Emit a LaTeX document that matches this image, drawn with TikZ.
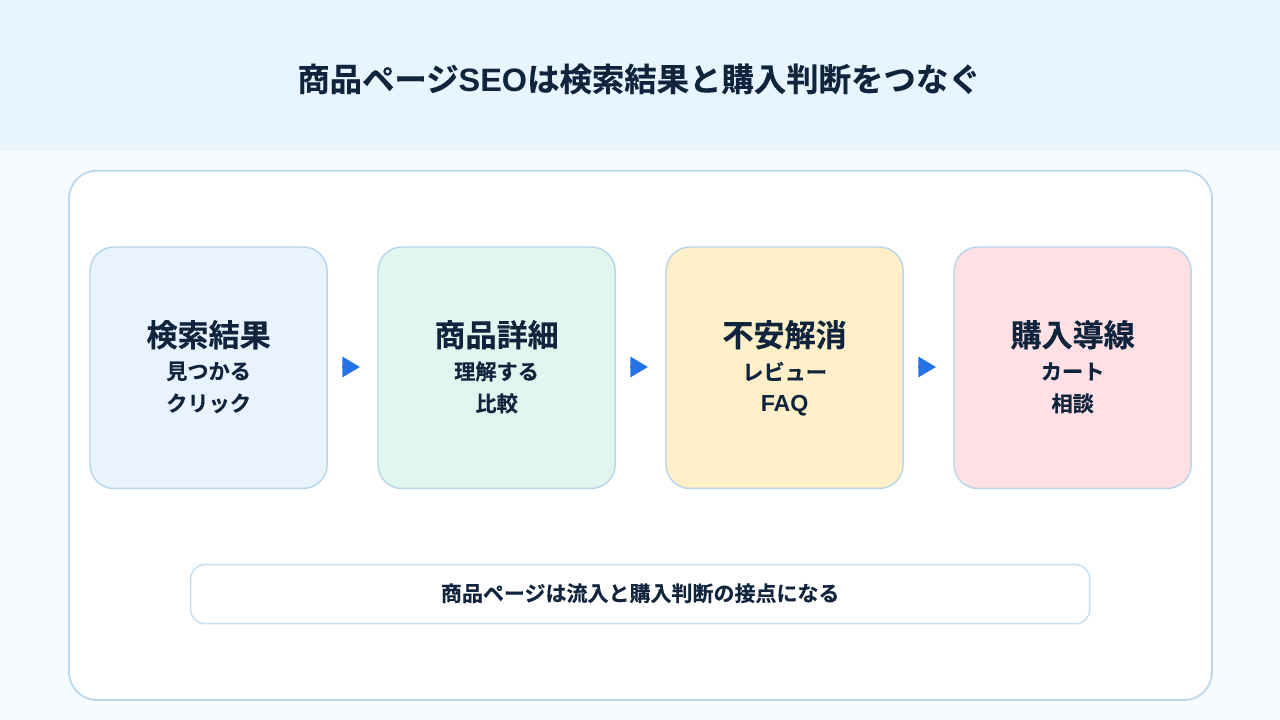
\documentclass[tikz,border=0pt]{standalone}
\usepackage{fontspec}
\setmainfont{Noto Sans CJK JP}[BoldFont={Noto Sans CJK JP Bold},BoldFeatures={FakeBold=0.25}]
\newfontfamily\latinbold{Liberation Sans Bold}
\usetikzlibrary{arrows.meta}
\definecolor{headbg}{HTML}{E8F5FF}
\definecolor{pagebg}{HTML}{F5FBFF}
\definecolor{edge}{HTML}{B8D7EC}
\definecolor{softedge}{HTML}{C6DEF1}
\definecolor{ink}{HTML}{10243E}
\definecolor{arrowblue}{HTML}{2573E6}
\definecolor{fa}{HTML}{E8F3FE}
\definecolor{fb}{HTML}{E0F7EF}
\definecolor{fc}{HTML}{FFF0C9}
\definecolor{fd}{HTML}{FFE0E4}
\tikzset{
  x=0.75pt,y=-0.75pt,
  stage/.style={draw=edge,line width=1.1pt,rounded corners=18pt,minimum width=177.9pt,minimum height=181.1pt,inner sep=0pt,outer sep=0pt,anchor=north west},
  headtext/.style={font=\fontsize{23.3pt}{26pt}\selectfont\bfseries,text=ink,anchor=center,inner sep=0pt},
  subtext/.style={font=\fontsize{15.9pt}{18pt}\selectfont\bfseries,text=ink,anchor=center,inner sep=0pt},
  flow/.style={-{Triangle[length=13.2pt,width=15pt]},draw=arrowblue,fill=arrowblue,line width=2.2pt}
}
\begin{document}
\begin{tikzpicture}
\useasboundingbox (0,0) rectangle (1280,720);
\fill[pagebg] (0,0) rectangle (1280,720);
\fill[headbg] (0,0) rectangle (1280,151);
\node[font=\fontsize{24.3pt}{28pt}\selectfont\bfseries,text=ink,inner sep=0pt] (title) at (639,79) {商品ページ{\latinbold SEO}は検索結果と購入判断をつなぐ};
\node[draw=edge,fill=white,line width=1.3pt,rounded corners=21pt,minimum width=857.25pt,minimum height=397pt,inner sep=0pt,outer sep=0pt,anchor=north west] (panel) at (69,170.7) {};
\node[stage,fill=fa] (a) at (90,247) {};
\node[stage,fill=fb] (b) at (378,247) {};
\node[stage,fill=fc] (c) at (666,247) {};
\node[stage,fill=fd] (d) at (954,247) {};
\foreach \n/\h/\s/\t/\d in {a/検索結果/見つかる/クリック/0,b/商品詳細/理解する/比較/0,c/不安解消/レビュー/{\vphantom{ク}\latinbold\fontsize{17.4pt}{18pt}\selectfont FAQ}/1.2,d/購入導線/カート/相談/0}{
  \node[headtext] (\n h) at ([yshift=24.75pt]\n.center) {\h};
  \node[subtext] (\n s) at ([yshift=-2.75pt]\n.center) {\s};
  \node[subtext] (\n t) at ([yshift=-26.75pt-\d pt]\n.center) {\t};
}
\coordinate (a1) at (342,367); \coordinate (a2) at (360,367);
\coordinate (b1) at (630,367); \coordinate (b2) at (648,367);
\coordinate (c1) at (918,367); \coordinate (c2) at (936,367);
\draw[flow] (a1) -- (a2);
\draw[flow] (b1) -- (b2);
\draw[flow] (c1) -- (c2);
\node[draw=softedge,fill=white,line width=1.1pt,rounded corners=10.5pt,minimum width=674.25pt,minimum height=44.25pt,inner sep=0pt,outer sep=0pt,anchor=north west] (note) at (190.7,564.7) {};
\node[font=\fontsize{15.75pt}{20pt}\selectfont\bfseries,text=ink,inner sep=0pt] (notetext) at ([yshift=0.75pt]note.center) {商品ページは流入と購入判断の接点になる};
\end{tikzpicture}
\end{document}
